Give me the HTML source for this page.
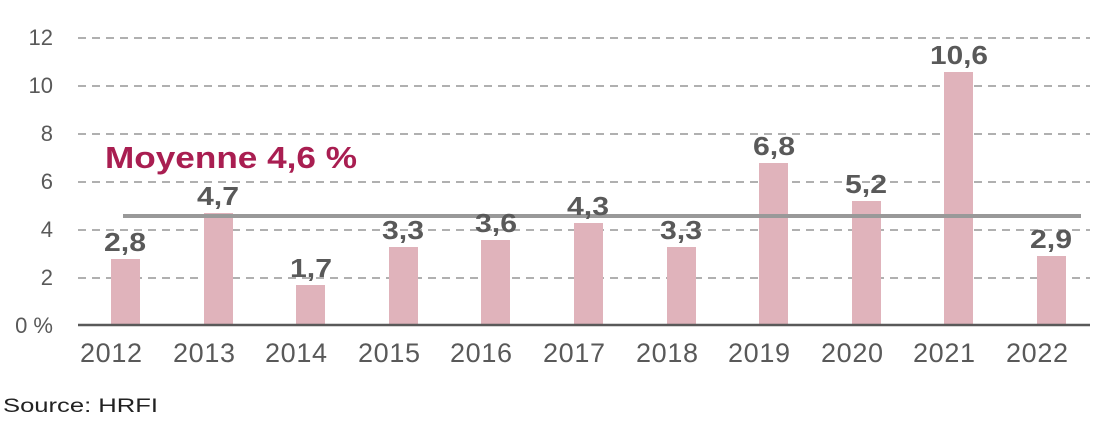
<!DOCTYPE html>
<html><head><meta charset="utf-8"><style>
html,body{margin:0;padding:0;background:#fff;}
svg{display:block;font-family:"Liberation Sans",sans-serif;}
</style></head><body>
<svg width="1119" height="436" viewBox="0 0 1119 436" xmlns="http://www.w3.org/2000/svg">
<g stroke="#808080" stroke-width="1.2" stroke-dasharray="8,6">
<line x1="78" y1="38" x2="1090" y2="38"/>
<line x1="78" y1="86" x2="1090" y2="86"/>
<line x1="78" y1="134" x2="1090" y2="134"/>
<line x1="78" y1="182" x2="1090" y2="182"/>
<line x1="78" y1="230" x2="1090" y2="230"/>
<line x1="78" y1="278" x2="1090" y2="278"/>
</g>
<g font-size="22" fill="#595959" text-anchor="end">
<text x="53" y="45">12</text>
<text x="53" y="93">10</text>
<text x="53" y="141">8</text>
<text x="53" y="189">6</text>
<text x="53" y="237">4</text>
<text x="53" y="285">2</text>
<text x="53" y="333">0 %</text>
</g>
<g fill="#E0B3BB">
<rect x="111" y="259" width="29" height="67"/>
<rect x="204" y="213" width="29" height="113"/>
<rect x="296" y="285" width="29" height="41"/>
<rect x="389" y="247" width="29" height="79"/>
<rect x="481" y="240" width="29" height="86"/>
<rect x="574" y="223" width="29" height="103"/>
<rect x="667" y="247" width="29" height="79"/>
<rect x="759" y="163" width="29" height="163"/>
<rect x="852" y="201" width="29" height="125"/>
<rect x="944" y="72" width="29" height="254"/>
<rect x="1037" y="256" width="29" height="70"/>
</g>
<line x1="123" y1="216" x2="1081" y2="216" stroke="#999" stroke-width="4"/>
<line x1="78" y1="325" x2="1090" y2="325" stroke="#595959" stroke-width="2.5"/>
<g font-size="26" font-weight="bold" fill="#595959" text-anchor="middle" lengthAdjust="spacingAndGlyphs">
<text x="125" y="251" textLength="42" lengthAdjust="spacingAndGlyphs">2,8</text>
<text x="218" y="205" textLength="42" lengthAdjust="spacingAndGlyphs">4,7</text>
<text x="311" y="277" textLength="42" lengthAdjust="spacingAndGlyphs">1,7</text>
<text x="403" y="239" textLength="42" lengthAdjust="spacingAndGlyphs">3,3</text>
<text x="496" y="232" textLength="42" lengthAdjust="spacingAndGlyphs">3,6</text>
<text x="588" y="215" textLength="42" lengthAdjust="spacingAndGlyphs">4,3</text>
<text x="681" y="239" textLength="42" lengthAdjust="spacingAndGlyphs">3,3</text>
<text x="774" y="155" textLength="42" lengthAdjust="spacingAndGlyphs">6,8</text>
<text x="866" y="193" textLength="42" lengthAdjust="spacingAndGlyphs">5,2</text>
<text x="959" y="64" textLength="58" lengthAdjust="spacingAndGlyphs">10,6</text>
<text x="1051" y="248" textLength="42" lengthAdjust="spacingAndGlyphs">2,9</text>
</g>
<g font-size="27" fill="#595959" text-anchor="middle">
<text x="111" y="362" textLength="62">2012</text>
<text x="204" y="362" textLength="62">2013</text>
<text x="296" y="362" textLength="62">2014</text>
<text x="389" y="362" textLength="62">2015</text>
<text x="481" y="362" textLength="62">2016</text>
<text x="574" y="362" textLength="62">2017</text>
<text x="667" y="362" textLength="62">2018</text>
<text x="759" y="362" textLength="62">2019</text>
<text x="852" y="362" textLength="62">2020</text>
<text x="944" y="362" textLength="62">2021</text>
<text x="1037" y="362" textLength="62">2022</text>
</g>
<text x="105" y="168" font-size="31" font-weight="bold" fill="#A91E51" textLength="252" lengthAdjust="spacingAndGlyphs">Moyenne 4,6 %</text>
<text x="3" y="412" font-size="19" fill="#222" textLength="155" lengthAdjust="spacingAndGlyphs">Source: HRFI</text>
</svg>
</body></html>
